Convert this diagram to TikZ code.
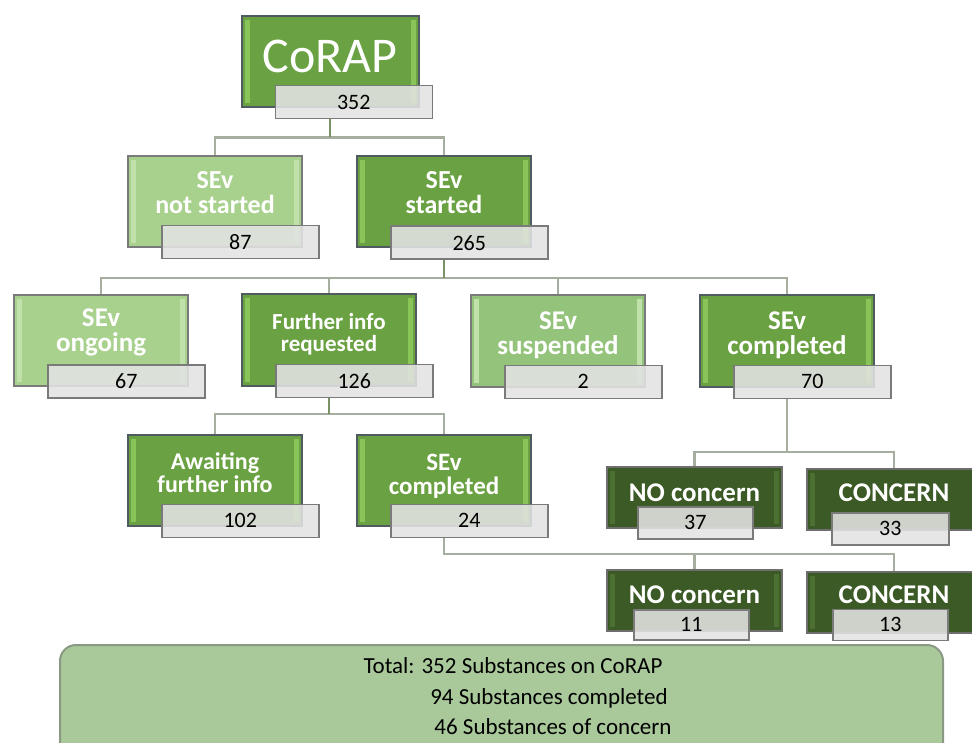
\documentclass[tikz,border=0pt]{standalone}
\usepackage{fontspec}
\setmainfont{Carlito}
\usepackage{xcolor}
\usepackage{tikz}
\usetikzlibrary{positioning}

\definecolor{midgreen}{HTML}{6AA142}
\definecolor{midedge}{HTML}{88C457}
\definecolor{midline}{HTML}{4F5B60}
\definecolor{lightgreen}{HTML}{A9D18E}
\definecolor{suspgreen}{HTML}{94C47B}
\definecolor{lightedge}{HTML}{C0E1AA}
\definecolor{darkgreen}{HTML}{3B5A25}
\definecolor{darkedge}{HTML}{4B7032}
\definecolor{boxgray}{HTML}{7A7A7A}
\definecolor{numgray}{HTML}{E3E3E3}
\definecolor{sumgreen}{HTML}{A9C99B}
\definecolor{sumline}{HTML}{8A9884}
\definecolor{linegray}{HTML}{A6AEA0}
\definecolor{stemgreen}{HTML}{7A9163}

\begin{document}
\begin{tikzpicture} [x=1pt, y=-1pt,
    bevel/.style = {path picture={
        \fill[#1] ([xshift=3pt,yshift=-4pt]path picture bounding box.north west)
            rectangle ([xshift=8pt,yshift=4pt]path picture bounding box.south west);
        \fill[#1] ([xshift=-8pt,yshift=-4pt]path picture bounding box.north east)
            rectangle ([xshift=-3pt,yshift=4pt]path picture bounding box.south east);}},
    midbox/.style = {draw=midline, line width=2pt, fill=midgreen, bevel=midedge,
                     minimum width=174pt, minimum height=91pt, inner sep=0pt},
    lightbox/.style = {midbox, draw=boxgray, fill=lightgreen, bevel=lightedge},
    suspbox/.style = {lightbox, fill=suspgreen},
    darkbox/.style = {midbox, draw=boxgray!90!black, fill=darkgreen, bevel=darkedge,
                      minimum width=175pt, minimum height=61pt},
    boxtext/.style = {text=white, align=center, inner sep=0pt,
                      font=\bfseries\fontsize{26}{25}\selectfont},
    numbox/.style = {draw=boxgray, line width=1.5pt, fill=numgray, fill opacity=0.88,
                     text opacity=1, anchor=north west, inner sep=0pt,
                     minimum width=157pt, minimum height=33pt,
                     font=\fontsize{22}{22}\selectfont},
    smallnum/.style = {numbox, minimum width=115pt, minimum height=32pt},
    branch/.style = {draw=linegray, line width=2.5pt},
    stem/.style = {draw=stemgreen, line width=2pt},
    sumbox/.style = {draw=sumline, line width=2pt, fill=sumgreen, rounded corners=16pt,
                     minimum width=883pt, minimum height=114pt},
    sumtext/.style = {anchor=base, inner sep=0pt, font=\fontsize{23}{23}\selectfont}]

    \useasboundingbox (0,0) rectangle (972,743);
    \clip (0,0) rectangle (972,743);

    % top
    \node (corap) at (330,61.5) [midbox, minimum width=177pt] {};
    \node (corap-t) at ([yshift=5pt]corap.center) [boxtext, font=\fontsize{50}{50}\selectfont] {CoRAP};
    \node (n352) at ([xshift=34pt,yshift=23pt]corap.south west) [numbox] {352};

    % second row
    \node (notstarted) at (215,201.5) [lightbox] {};
    \node (notstarted-t) at ([yshift=9pt]notstarted.center) [boxtext] {SEv\\not started};
    \node (n87) at ([xshift=34pt,yshift=23pt]notstarted.south west) [numbox] {87};

    \node (started) at (444,202) [midbox] {};
    \node (started-t) at ([yshift=9pt]started.center) [boxtext] {SEv\\started};
    \node (n265) at ([xshift=34pt,yshift=23pt]started.south west) [numbox] {265};

    % third row
    \node (ongoing) at (101,340.5) [lightbox] {};
    \node (ongoing-t) at ([yshift=8pt]ongoing.center) [boxtext, font=\bfseries\fontsize{27}{25}\selectfont] {SEv\\ongoing};
    \node (n67) at ([xshift=34pt,yshift=23pt]ongoing.south west) [numbox] {67};

    \node (further) at (329,340) [midbox] {};
    \node (further-t) at ([yshift=6pt]further.center) [boxtext, font=\bfseries\fontsize{23}{22}\selectfont] {Further info\\requested};
    \node (n126) at ([xshift=34pt,yshift=23pt]further.south west) [numbox] {126};

    \node (suspended) at (558,341) [suspbox] {};
    \node (suspended-t) at ([yshift=6pt]suspended.center) [boxtext, font=\bfseries\fontsize{27}{25}\selectfont] {SEv\\suspended};
    \node (n2) at ([xshift=34pt,yshift=23pt]suspended.south west) [numbox] {2};

    \node (completed) at (787,341) [midbox] {};
    \node (completed-t) at ([yshift=6pt]completed.center) [boxtext, font=\bfseries\fontsize{27}{25}\selectfont] {SEv\\completed};
    \node (n70) at ([xshift=34pt,yshift=23pt]completed.south west) [numbox] {70};

    % fourth row
    \node (awaiting) at (215,480) [midbox] {};
    \node (awaiting-t) at ([yshift=7pt]awaiting.center) [boxtext, font=\bfseries\fontsize{24}{23}\selectfont] {Awaiting\\further info};
    \node (n102) at ([xshift=34pt,yshift=23pt]awaiting.south west) [numbox] {102};

    \node (completedb) at (444,480) [midbox] {};
    \node (completedb-t) at ([yshift=4pt]completedb.center) [boxtext, font=\bfseries\fontsize{25}{24}\selectfont] {SEv\\completed};
    \node (n24) at ([xshift=34pt,yshift=23pt]completedb.south west) [numbox] {24};

    % outcomes
    \node (nocon) at (694.5,497.5) [darkbox] {};
    \node (nocon-t) at ([yshift=5pt]nocon.center) [boxtext, font=\bfseries\fontsize{27}{27}\selectfont] {NO concern};
    \node (n37) at ([xshift=31pt,yshift=23pt]nocon.south west) [smallnum] {37};

    \node (concern) at (894,499.5) [darkbox, minimum width=174pt] {};
    \node (concern-t) at ([yshift=6.5pt]concern.center) [boxtext, font=\bfseries\fontsize{27}{27}\selectfont] {CONCERN};
    \node (n33) at ([xshift=25pt,yshift=19pt]concern.south west) [smallnum, minimum width=117pt] {33};

    \node (noconb) at (694.5,600.5) [darkbox] {};
    \node (noconb-t) at ([yshift=6pt]noconb.center) [boxtext, font=\bfseries\fontsize{27}{27}\selectfont] {NO concern};
    \node (n11) at ([xshift=27pt,yshift=23pt]noconb.south west) [smallnum, minimum height=30pt] {11};

    \node (concernb) at (894,602) [darkbox, minimum width=174pt] {};
    \node (concernb-t) at ([yshift=7pt]concernb.center) [boxtext, font=\bfseries\fontsize{27}{27}\selectfont] {CONCERN};
    \node (n13) at ([xshift=26pt,yshift=25pt]concernb.south west) [smallnum, minimum height=31pt] {13};

    % connectors
    \foreach \c in {notstarted, started}
        \draw [branch] (corap |- n352.south) -- ++(0,18) -| (\c.north);
    \draw [stem] (corap |- n352.south) -- ++(0,18);
    \foreach \c in {ongoing, further, suspended, completed}
        \draw [branch] (started |- n265.south) -- ++(0,18) -| (\c.north);
    \draw [stem] (started |- n265.south) -- ++(0,18);
    \foreach \c in {awaiting, completedb}
        \draw [branch] (further |- n126.south) -- ++(0,16) -| (\c.north);
    \draw [stem] (further |- n126.south) -- ++(0,16);
    \foreach \c in {nocon, concern}
        \draw [branch] (completed |- n70.south) -- ++(0,53) -| (\c.north);
    \foreach \c in {noconb, concernb}
        \draw [branch] (completedb |- n24.south) -- ++(0,16) -| (\c.north);

    % summary
    \node (summary) at (501.5,702) [sumbox] {};
    \node (total) at (513,673) [sumtext] {Total: 352 Substances on CoRAP};
    \node (done) at (549,704) [sumtext] {94 Substances completed};
    \node (worry) at (553,734) [sumtext] {46 Substances of concern};
\end{tikzpicture}
\end{document}
